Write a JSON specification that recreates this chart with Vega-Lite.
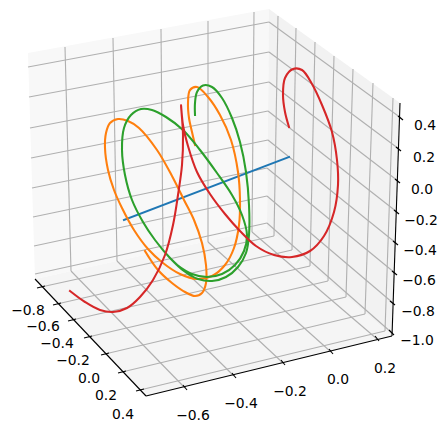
{"$schema":"https://vega.github.io/schema/vega-lite/v6.json","width":445,"height":436,"padding":0,"autosize":{"type":"none"},"background":"white","view":{"stroke":null},
"config":{"axis":{"grid":false}},
"datasets":{
"panes":[
{"pane":"left","i":0,"h":28,"v":53},{"pane":"left","i":1,"h":269,"v":9},{"pane":"left","i":2,"h":267,"v":228},{"pane":"left","i":3,"h":35,"v":279},
{"pane":"right","i":0,"h":269,"v":9},{"pane":"right","i":1,"h":400,"v":103},{"pane":"right","i":2,"h":392,"v":336},{"pane":"right","i":3,"h":267,"v":228},
{"pane":"floor","i":0,"h":35,"v":279},{"pane":"floor","i":1,"h":267,"v":228},{"pane":"floor","i":2,"h":392,"v":336},{"pane":"floor","i":3,"h":146,"v":396}],
"grid":[
{"h":28,"v":67,"h2":269,"v2":22},{"h":29,"v":97,"h2":269,"v2":52},{"h":30,"v":128,"h2":269,"v2":82},{"h":31,"v":158,"h2":268,"v2":111},{"h":32,"v":188,"h2":268,"v2":140},{"h":33,"v":217,"h2":267,"v2":168},{"h":34,"v":246,"h2":267,"v2":196},{"h":35,"v":274,"h2":267,"v2":223},
{"h":269,"v":22,"h2":401,"v2":118},{"h":269,"v":52,"h2":399,"v2":149},{"h":269,"v":82,"h2":398,"v2":181},{"h":268,"v":111,"h2":397,"v2":212},{"h":268,"v":140,"h2":396,"v2":243},{"h":267,"v":168,"h2":395,"v2":273},{"h":267,"v":196,"h2":393,"v2":303},{"h":267,"v":223,"h2":392,"v2":333},
{"h":65,"v":47,"h2":71,"v2":271},{"h":113,"v":38,"h2":117,"v2":261},{"h":161,"v":29,"h2":163,"v2":251},{"h":208,"v":21,"h2":208,"v2":242},{"h":254,"v":12,"h2":252,"v2":232},
{"h":278,"v":16,"h2":274,"v2":236},{"h":296,"v":28,"h2":292,"v2":250},{"h":315,"v":42,"h2":310,"v2":266},{"h":334,"v":56,"h2":328,"v2":281},{"h":353,"v":69,"h2":346,"v2":297},{"h":373,"v":83,"h2":365,"v2":314},{"h":393,"v":98,"h2":385,"v2":331},
{"h":71,"v":271,"h2":185,"v2":388},{"h":117,"v":261,"h2":234,"v2":376},{"h":163,"v":251,"h2":283,"v2":363},{"h":208,"v":242,"h2":331,"v2":352},{"h":252,"v":232,"h2":377,"v2":339},
{"h":41,"v":287,"h2":274,"v2":236},{"h":57,"v":304,"h2":292,"v2":250},{"h":72,"v":320,"h2":310,"v2":266},{"h":88,"v":337,"h2":328,"v2":281},{"h":105,"v":354,"h2":346,"v2":297},{"h":122,"v":372,"h2":365,"v2":314},{"h":140,"v":390,"h2":385,"v2":331}],
"axes":[
{"h":35,"v":279,"h2":146,"v2":396},{"h":146,"v":396,"h2":392,"v2":336},{"h":400,"v":103,"h2":392,"v2":336},
{"h":37,"v":288,"h2":45,"v2":286},{"h":53,"v":305,"h2":61,"v2":303},{"h":68,"v":321,"h2":76,"v2":319},{"h":84,"v":338,"h2":92,"v2":336},{"h":101,"v":355,"h2":109,"v2":353},{"h":118,"v":373,"h2":126,"v2":371},{"h":136,"v":391,"h2":144,"v2":389},
{"h":183,"v":385,"h2":187,"v2":390},{"h":232,"v":373,"h2":236,"v2":378},{"h":281,"v":360,"h2":285,"v2":365},{"h":329,"v":349,"h2":333,"v2":354},{"h":375,"v":336,"h2":379,"v2":341},
{"h":398,"v":116,"h2":403,"v2":120},{"h":396,"v":147,"h2":401,"v2":151},{"h":395,"v":179,"h2":400,"v2":183},{"h":394,"v":210,"h2":399,"v2":214},{"h":393,"v":241,"h2":398,"v2":245},{"h":392,"v":271,"h2":397,"v2":275},{"h":390,"v":301,"h2":395,"v2":305},{"h":389,"v":330,"h2":394,"v2":335}],
"labels":[
{"h":28,"v":311,"t":"−0.8"},{"h":43,"v":327,"t":"−0.6"},{"h":57,"v":344,"t":"−0.4"},{"h":73,"v":361,"t":"−0.2"},{"h":89,"v":379,"t":"0.0"},{"h":106,"v":396,"t":"0.2"},{"h":123,"v":415,"t":"0.4"},
{"h":193,"v":416,"t":"−0.6"},{"h":241,"v":404,"t":"−0.4"},{"h":290,"v":392,"t":"−0.2"},{"h":338,"v":380,"t":"0.0"},{"h":385,"v":369,"t":"0.2"},
{"h":425,"v":126,"t":"0.4"},{"h":424,"v":158,"t":"0.2"},{"h":422,"v":190,"t":"0.0"},{"h":421,"v":221,"t":"−0.2"},{"h":420,"v":251,"t":"−0.4"},{"h":419,"v":281,"t":"−0.6"},{"h":418,"v":312,"t":"−0.8"},{"h":417,"v":341,"t":"−1.0"}],
"curves":[
{"s":"a","i":0,"h":124,"v":220},{"s":"a","i":1,"h":289,"v":157},
{"s":"b","i":0,"h":145,"v":251},{"s":"b","i":1,"h":158,"v":270},{"s":"b","i":2,"h":172,"v":283},{"s":"b","i":3,"h":185,"v":292},{"s":"b","i":4,"h":195,"v":296},{"s":"b","i":5,"h":202,"v":293},{"s":"b","i":6,"h":206,"v":283},{"s":"b","i":7,"h":206,"v":265},{"s":"b","i":8,"h":202,"v":243},{"s":"b","i":9,"h":194,"v":220},{"s":"b","i":10,"h":184,"v":200},{"s":"b","i":11,"h":172,"v":176},{"s":"b","i":12,"h":157,"v":150},{"s":"b","i":13,"h":139,"v":128},{"s":"b","i":14,"h":128,"v":121},{"s":"b","i":15,"h":118,"v":119},{"s":"b","i":16,"h":110,"v":123},{"s":"b","i":17,"h":106,"v":133},{"s":"b","i":18,"h":105,"v":148},{"s":"b","i":19,"h":108,"v":170},{"s":"b","i":20,"h":114,"v":190},{"s":"b","i":21,"h":122,"v":208},{"s":"b","i":22,"h":134,"v":230},{"s":"b","i":23,"h":148,"v":249},{"s":"b","i":24,"h":163,"v":263},{"s":"b","i":25,"h":180,"v":274},{"s":"b","i":26,"h":197,"v":279},{"s":"b","i":27,"h":212,"v":276},{"s":"b","i":28,"h":225,"v":265},{"s":"b","i":29,"h":234,"v":248},{"s":"b","i":30,"h":239,"v":225},{"s":"b","i":31,"h":240,"v":200},{"s":"b","i":32,"h":238,"v":172},{"s":"b","i":33,"h":231,"v":140},{"s":"b","i":34,"h":220,"v":115},{"s":"b","i":35,"h":208,"v":97},{"s":"b","i":36,"h":197,"v":87},{"s":"b","i":37,"h":190,"v":90},{"s":"b","i":38,"h":188,"v":103},{"s":"b","i":39,"h":189,"v":118},{"s":"b","i":40,"h":192,"v":132},{"s":"b","i":41,"h":195,"v":145},
{"s":"c","i":0,"h":195,"v":115},{"s":"c","i":1,"h":195,"v":103},{"s":"c","i":2,"h":197,"v":92},{"s":"c","i":3,"h":203,"v":85.5},{"s":"c","i":4,"h":212,"v":87},{"s":"c","i":5,"h":222,"v":98},{"s":"c","i":6,"h":232,"v":118},{"s":"c","i":7,"h":240,"v":142},{"s":"c","i":8,"h":246,"v":172},{"s":"c","i":9,"h":249,"v":205},{"s":"c","i":10,"h":249,"v":235},{"s":"c","i":11,"h":246,"v":253},{"s":"c","i":12,"h":238,"v":267},{"s":"c","i":13,"h":226,"v":277},{"s":"c","i":14,"h":212,"v":281},{"s":"c","i":15,"h":198,"v":279},{"s":"c","i":16,"h":184,"v":271},{"s":"c","i":17,"h":170,"v":258},{"s":"c","i":18,"h":155,"v":240},{"s":"c","i":19,"h":143,"v":222},{"s":"c","i":20,"h":132,"v":200},{"s":"c","i":21,"h":125,"v":175},{"s":"c","i":22,"h":122,"v":150},{"s":"c","i":23,"h":124,"v":128},{"s":"c","i":24,"h":131,"v":115},{"s":"c","i":25,"h":141,"v":109},{"s":"c","i":26,"h":152,"v":110},{"s":"c","i":27,"h":166,"v":117},{"s":"c","i":28,"h":183,"v":130},{"s":"c","i":29,"h":200,"v":150},{"s":"c","i":30,"h":217,"v":173},{"s":"c","i":31,"h":232,"v":195},{"s":"c","i":32,"h":242,"v":215},{"s":"c","i":33,"h":247,"v":235},{"s":"c","i":34,"h":244,"v":251},{"s":"c","i":35,"h":235,"v":265},{"s":"c","i":36,"h":222,"v":274},{"s":"c","i":37,"h":207,"v":277},{"s":"c","i":38,"h":192,"v":274},{"s":"c","i":39,"h":177,"v":265},
{"s":"d","i":0,"h":289,"v":127},{"s":"d","i":1,"h":285,"v":112},{"s":"d","i":2,"h":283,"v":95},{"s":"d","i":3,"h":285,"v":78},{"s":"d","i":4,"h":293,"v":69},{"s":"d","i":5,"h":302,"v":70},{"s":"d","i":6,"h":312,"v":84},{"s":"d","i":7,"h":322,"v":105},{"s":"d","i":8,"h":332,"v":132},{"s":"d","i":9,"h":337,"v":160},{"s":"d","i":10,"h":338,"v":185},{"s":"d","i":11,"h":334,"v":212},{"s":"d","i":12,"h":324,"v":236},{"s":"d","i":13,"h":310,"v":251},{"s":"d","i":14,"h":292,"v":257},{"s":"d","i":15,"h":274,"v":255},{"s":"d","i":16,"h":256,"v":246},{"s":"d","i":17,"h":240,"v":231},{"s":"d","i":18,"h":225,"v":214},{"s":"d","i":19,"h":210,"v":194},{"s":"d","i":20,"h":197,"v":172},{"s":"d","i":21,"h":188,"v":146},{"s":"d","i":22,"h":183,"v":125},{"s":"d","i":23,"h":181,"v":105},{"s":"d","i":24,"h":183,"v":135},{"s":"d","i":25,"h":182,"v":165},{"s":"d","i":26,"h":178,"v":195},{"s":"d","i":27,"h":173,"v":225},{"s":"d","i":28,"h":165,"v":255},{"s":"d","i":29,"h":153,"v":280},{"s":"d","i":30,"h":140,"v":297},{"s":"d","i":31,"h":127,"v":308},{"s":"d","i":32,"h":113,"v":312},{"s":"d","i":33,"h":100,"v":310},{"s":"d","i":34,"h":85,"v":302},{"s":"d","i":35,"h":70,"v":291}]
},
"encoding":{
"x":{"field":"h","type":"quantitative","axis":null,"scale":{"domain":[0,445],"range":[0,445],"nice":false,"zero":false}},
"y":{"field":"v","type":"quantitative","axis":null,"scale":{"domain":[0,436],"range":[0,436],"nice":false,"zero":false}}},
"layer":[
{"data":{"name":"panes"},"mark":{"type":"line","fill":"#f8f8f8","stroke":null,"strokeWidth":0},"transform":[{"filter":"datum.pane=='left'"}],"encoding":{"order":{"field":"i"}}},
{"data":{"name":"panes"},"mark":{"type":"line","fill":"#f2f2f2","stroke":null,"strokeWidth":0},"transform":[{"filter":"datum.pane=='right'"}],"encoding":{"order":{"field":"i"}}},
{"data":{"name":"panes"},"mark":{"type":"line","fill":"#f5f5f5","stroke":null,"strokeWidth":0},"transform":[{"filter":"datum.pane=='floor'"}],"encoding":{"order":{"field":"i"}}},
{"data":{"name":"grid"},"mark":{"type":"rule","color":"#b0b0b0","strokeWidth":1.11},"encoding":{"x2":{"field":"h2"},"y2":{"field":"v2"}}},
{"data":{"name":"axes"},"mark":{"type":"rule","color":"#000000","strokeWidth":1.11},"encoding":{"x2":{"field":"h2"},"y2":{"field":"v2"}}},
{"data":{"name":"curves"},"mark":{"type":"line","interpolate":"catmull-rom","strokeWidth":2.08,"strokeCap":"square"},"encoding":{"order":{"field":"i"},"color":{"field":"s","type":"nominal","legend":null,"scale":{"domain":["a","b","c","d"],"range":["#1f77b4","#ff7f0e","#2ca02c","#d62728"]}}}},
{"data":{"name":"labels"},"mark":{"type":"text","font":"DejaVu Sans","fontSize":13.9,"color":"#000000","align":"center","baseline":"middle"},"encoding":{"text":{"field":"t"}}}
]}
